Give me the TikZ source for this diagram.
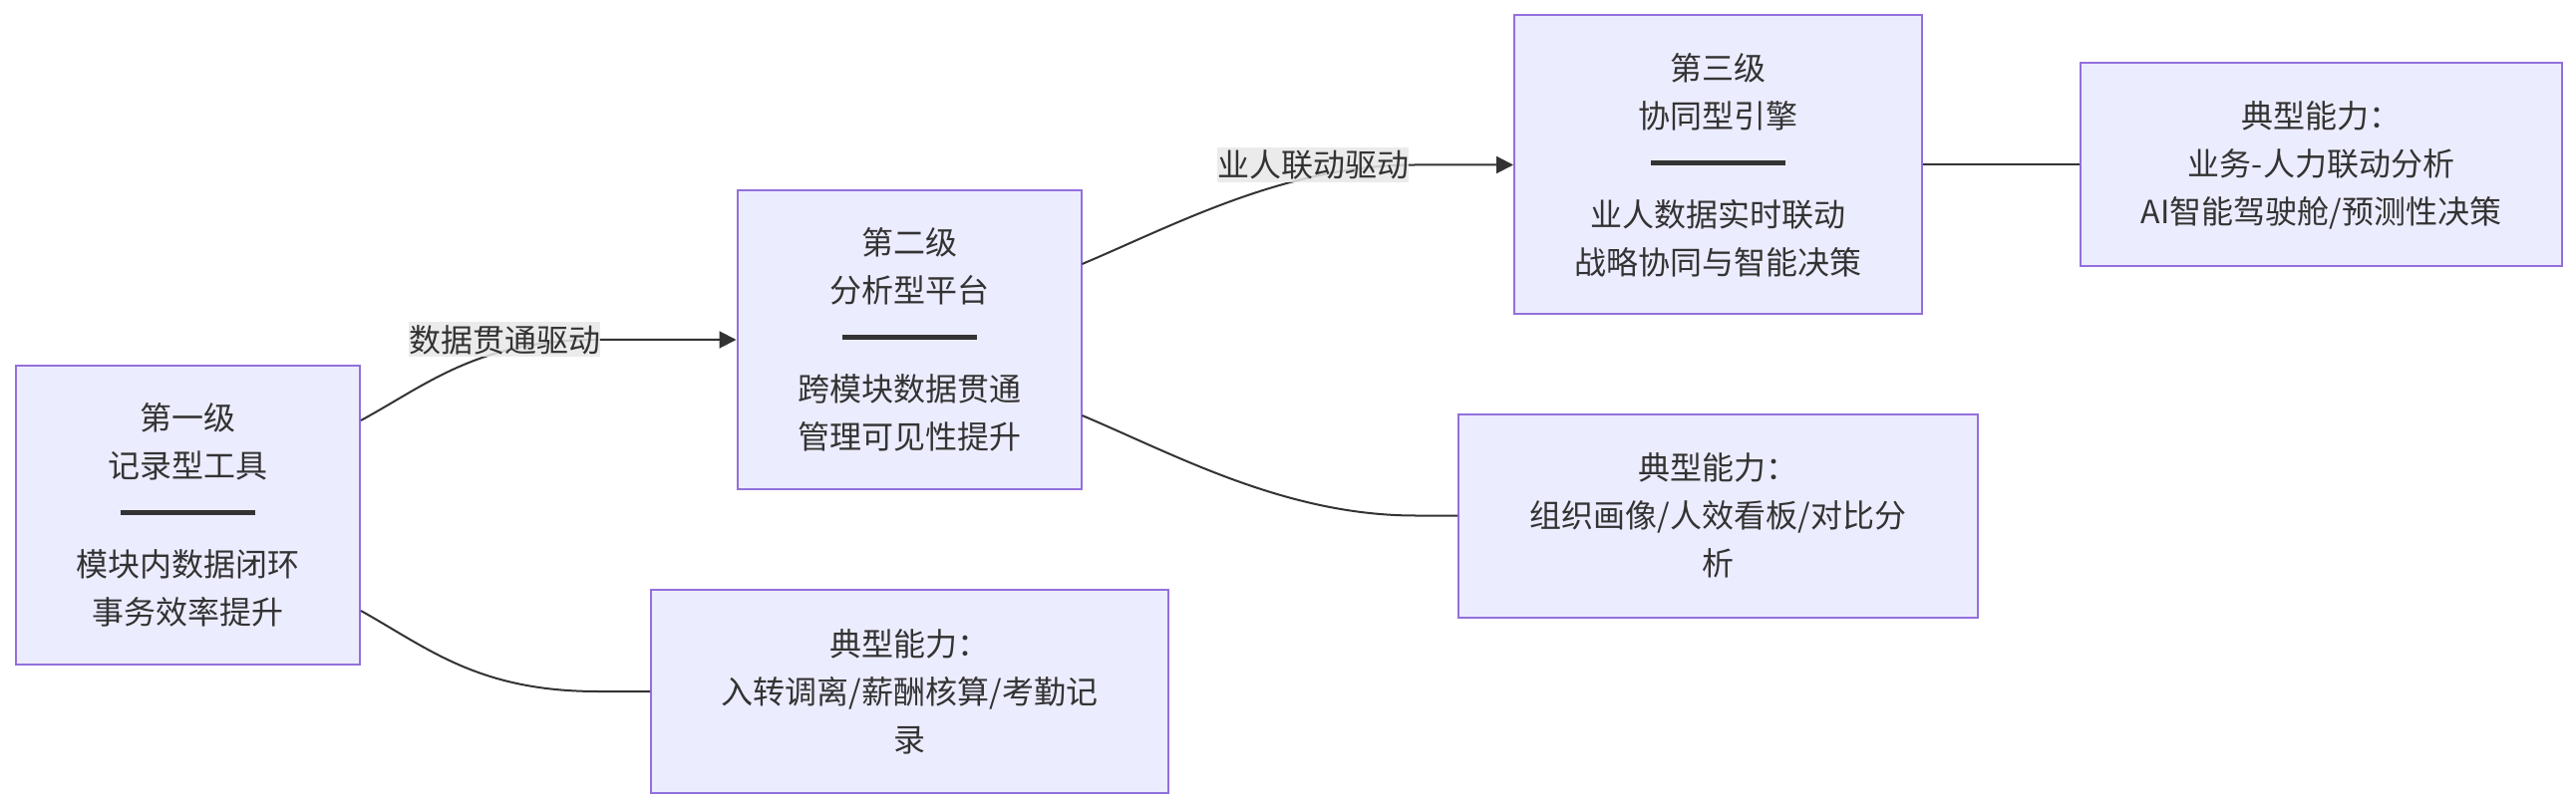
\documentclass[tikz,border=0pt]{standalone}
\usepackage{fontspec}
\setmainfont{Noto Sans CJK SC}
\usetikzlibrary{positioning, arrows.meta}
\definecolor{boxfill}{HTML}{ECECFF}
\definecolor{boxline}{HTML}{9370DB}
\definecolor{ink}{HTML}{333333}
\definecolor{lblfill}{HTML}{E8E8E8}
\newcommand{\levelbar}{\rule[4.75pt]{67.5pt}{2.5pt}}

\begin{document}
\begin{tikzpicture}[
  x=0.5pt, y=-0.5pt,
  >={Triangle[length=8.5pt, width=8.5pt]},
  every node/.style={font=\fontsize{16pt}{24pt}\selectfont, text=ink},
  box/.style    = {draw=boxline, fill=boxfill, line width=1pt, align=center, inner sep=0pt},
  level/.style  = {box, minimum width=172.5pt, minimum height=150pt},
  capbox/.style = {box, minimum height=102pt},
  elabel/.style = {fill=lblfill, fill opacity=0.85, text opacity=1, inner sep=0pt, minimum height=17.5pt},
  link/.style   = {draw=ink, line width=1pt},
  arr/.style    = {link, ->},
]
  \useasboundingbox (0,0) rectangle (2584,812);
  % levels
  \node[level] (b1) at (188.5,517)  {第一级\\记录型工具\\[-0.5pt]\levelbar\\[2pt]模块内数据闭环\\事务效率提升};
  \node[level] (b2) at (912,341)    {第二级\\分析型平台\\[-0.5pt]\levelbar\\[2pt]跨模块数据贯通\\管理可见性提升};
  \node[level, minimum width=204.5pt] (b3) at (1723.5,165.5) {第三级\\协同型引擎\\[-0.5pt]\levelbar\\[2pt]业人数据实时联动\\战略协同与智能决策};
  % capabilities
  \node[capbox, minimum width=241.5pt, right=78.5pt of b3] (c3) {典型能力：\\业务-人力联动分析\\AI智能驾驶舱/预测性决策};
  \node[capbox, minimum width=260.5pt] (c2) at (1723.5,517.5) {典型能力：\\组织画像/人效看板/对比分\\析};
  \node[capbox, minimum width=259.5pt] (c1) at (912.5,694)    {典型能力：\\入转调离/薪酬核算/考勤记\\录};
  % connectors
  \draw[arr]  ([yshift=47.5pt]b1.east) .. controls (430,385) and (480,341) .. (600,341) -- (b2.west);
  \node[elabel] (l1) at (506,341) {数据贯通驱动};
  \draw[link] ([yshift=-48pt]b1.east) .. controls (430,651) and (480,694) .. (600,694) -- (c1.west);
  \draw[arr]  ([yshift=38pt]b2.east) .. controls (1180,225) and (1290,165.5) .. (1420,165.5) -- (b3.west);
  \node[elabel] (l2) at (1317,165.5) {业人联动驱动};
  \draw[link] ([yshift=-38pt]b2.east) .. controls (1180,457) and (1290,517.5) .. (1420,517.5) -- (c2.west);
  \draw[link] (b3) -- (c3);
\end{tikzpicture}
\end{document}
